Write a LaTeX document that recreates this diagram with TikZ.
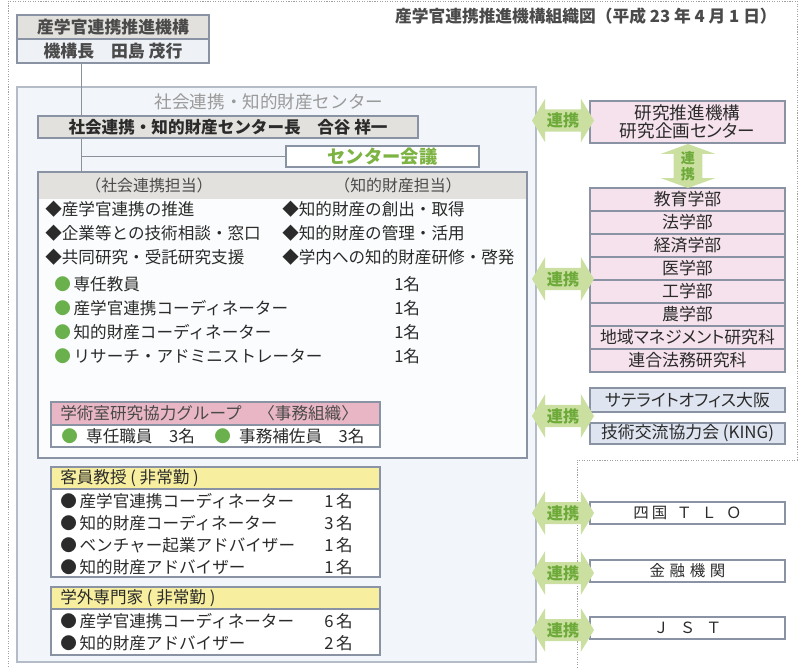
\documentclass[tikz,border=0pt]{standalone}
\usepackage{fontspec}
\setmainfont{Noto Sans CJK JP}
\newfontfamily\propfont[RawFeature=+palt]{Noto Sans CJK JP}
\usetikzlibrary{shapes.arrows}
\newcommand*{\px}{0.25mm}
\newcommand*{\jsize}[1]{\fontsize{#1}{#1}\selectfont}
\definecolor{frame}{HTML}{8A93A3}
\definecolor{framelight}{HTML}{B4BCC7}
\definecolor{centerfill}{HTML}{F2F5F9}
\definecolor{innerfill}{HTML}{FBFCFD}
\definecolor{headgray}{HTML}{E3E1DD}
\definecolor{paleblue}{HTML}{EEF2F7}
\definecolor{facultypink}{HTML}{F5E2EC}
\definecolor{officeblue}{HTML}{DFE5F0}
\definecolor{pinkhead}{HTML}{E8B6C4}
\definecolor{yellowhead}{HTML}{F7EF9F}
\definecolor{arrowfill}{HTML}{CADFA0}
\definecolor{renkeitext}{HTML}{6DAA3A}
\definecolor{dotgreen}{HTML}{6AB04C}
\definecolor{kaigigreen}{HTML}{7CB342}
\definecolor{ink}{HTML}{2B2B2B}
\definecolor{softink}{HTML}{4A4A4A}
\definecolor{midgray}{HTML}{9A9A9A}
\definecolor{linegray}{HTML}{8C9099}
\definecolor{dotgray}{HTML}{A0A0A0}
\tikzstyle{box} = [draw=frame, line width=0.9pt, rectangle, inner sep=0pt, outer sep=0pt]
\tikzstyle{item} = [anchor=west, inner sep=0pt, font=\jsize{11.8}, text=ink]
\tikzstyle{unit} = [box, minimum width=195*\px, text=ink, font=\propfont\jsize{12}]
\tikzstyle{renkei} = [double arrow, fill=arrowfill, text=renkeitext, font=\jsize{11.5}\bfseries, double arrow head extend=11*\px, double arrow tip angle=118, minimum height=62*\px, inner xsep=0pt, inner ysep=3*\px]
\tikzstyle{link} = [draw=linegray, line width=0.7pt]
\tikzstyle{outline} = [draw=dotgray, line width=0.7pt, dash pattern=on 0.8pt off 1pt]

\begin{document}
\begin{tikzpicture}[x=\px, y=-\px]
    \useasboundingbox (0, 0) rectangle (799, 667);
    \draw [outline] (8, 667) -- (8, 1) -- (797, 1) -- (797, 460) -- (577, 460) -- (577, 667);

    \node (title) [anchor=east, inner sep=0pt, font=\jsize{11.9}\bfseries, text=softink] at (777, 16) {産学官連携推進機構組織図（平成 23 年 4 月 1 日）};

    \node (kikou) [box, fill=headgray, minimum width=192*\px, minimum height=24*\px, font=\jsize{12}\bfseries, text=softink] at (113, 27) {産学官連携推進機構};
    \node (kikouchou) [box, fill=paleblue, minimum width=192*\px, minimum height=24*\px, font=\jsize{12}\bfseries, text=softink] at (113, 51) {機構長　田島 茂行};

    % center
    \node (center) [box, draw=framelight, fill=centerfill, minimum width=519*\px, minimum height=575*\px] at (276.5, 374.5) {};
    \node (centername) [inner sep=0pt, font=\jsize{12.5}, text=midgray] at (269, 102) {社会連携・知的財産センター};
    \node (chou) [box, fill=headgray, minimum width=380*\px, minimum height=22*\px, font=\jsize{11.8}\bfseries, text=ink] at (228, 127) {社会連携・知的財産センター長　合谷 祥一};
    \node (kaigi) [box, fill=white, minimum width=193*\px, minimum height=21*\px, font=\jsize{13}\bfseries, text=kaigigreen] at (382.5, 156.5) {センター会議};
    \node (tanto) [box, fill=innerfill, minimum width=489*\px, minimum height=286*\px] at (282.5, 315) {};
    \node (tantohead) [fill=headgray, inner sep=0pt, minimum width=487*\px, minimum height=26*\px] at (282.5, 186) {};
    \node (shakai) [inner sep=0pt, font=\jsize{11.3}, text=softink] at (149, 185) {（社会連携担当）};
    \node (chizai) [inner sep=0pt, font=\jsize{11.3}, text=softink] at (398, 185) {（知的財産担当）};

    \coordinate (trunk) at (81, 0);
    \draw [link] (kikouchou.south -| trunk) -- (chou.north -| trunk);
    \draw [link] (chou.south -| trunk) -- (tanto.north -| trunk);
    \draw [link] (trunk |- kaigi.west) -- (kaigi.west);

    \foreach \i/\y/\a/\b in {1/209/産学官連携の推進/知的財産の創出・取得, 2/233/企業等との技術相談・窓口/知的財産の管理・活用, 3/257/共同研究・受託研究支援/学内への知的財産研修・啓発} {
        \node (role a\i) [item] at (45, \y) {◆\a};
        \node (role b\i) [item] at (282, \y) {◆\b};
    }

    \foreach \i/\y/\name in {1/284/専任教員, 2/308/産学官連携コーディネーター, 3/332/知的財産コーディネーター, 4/356/リサーチ・アドミニストレーター} {
        \node (staff \i) [item] at (54, \y) {{\color{dotgreen}●}\,\name};
        \node (staff count \i) [item] at (394, \y) {1名};
    }

    \node (group) [box, fill=pinkhead, minimum width=329*\px, minimum height=23*\px] at (215.5, 413.5) {};
    \node (group name) [item, text=softink] at (60, 413.5) {学術室研究協力グループ　〈事務組織〉};
    \node (group staff) [box, fill=white, minimum width=329*\px, minimum height=22*\px] at (215.5, 436) {};
    \node (group a) [item] at (61, 436) {{\color{dotgreen}●}\hspace{.5em}専任職員　3名};
    \node (group b) [item] at (214, 436) {{\color{dotgreen}●}\hspace{.5em}事務補佐員　3名};

    % part-time
    \node (guest) [box, fill=yellowhead, minimum width=329*\px, minimum height=22*\px] at (215.5, 478) {};
    \node (guest body) [box, fill=white, minimum width=329*\px, minimum height=88*\px] at (215.5, 533) {};
    \node (guest name) [item] at (60, 478) {客員教授 ( 非常勤 )};
    \foreach \i/\y/\name/\n in {1/501/産学官連携コーディネーター/1, 2/523/知的財産コーディネーター/3, 3/545/ベンチャー起業アドバイザー/1, 4/567/知的財産アドバイザー/1} {
        \node (guest \i) [item] at (60, \y) {●\,\name};
        \node (guest count \i) [item] at (324, \y) {\n\,名};
    }

    \node (expert) [box, fill=yellowhead, minimum width=329*\px, minimum height=22*\px] at (215.5, 598) {};
    \node (expert body) [box, fill=white, minimum width=329*\px, minimum height=46*\px] at (215.5, 632) {};
    \node (expert name) [item] at (60, 598) {学外専門家 ( 非常勤 )};
    \foreach \i/\y/\name/\n in {1/621/産学官連携コーディネーター/6, 2/643/知的財産アドバイザー/2} {
        \node (expert \i) [item] at (60, \y) {●\,\name};
        \node (expert count \i) [item] at (324, \y) {\n\,名};
    }

    % right column
    \node (suishin) [unit, fill=facultypink, minimum height=42*\px, align=center, font=\propfont\fontsize{12.5}{12.8}\selectfont] at (687.5, 122) {研究推進機構\\研究企画センター};
    \foreach \i/\name in {0/教育学部, 1/法学部, 2/経済学部, 3/医学部, 4/工学部, 5/農学部, 6/地域マネジメント研究科, 7/連合法務研究科} {
        \node (faculty \i) [unit, fill=facultypink, minimum height=23*\px] at (687.5, {199.5 + 23 * \i}) {\name};
    }
    \node (osaka) [unit, fill=officeblue, minimum height=24*\px] at (687.5, 400) {サテライトオフィス大阪};
    \node (king) [unit, fill=officeblue, minimum height=21*\px] at (687.5, 433.5) {技術交流協力会 (KING)};
    \node (tlo) [unit, fill=white, minimum height=22*\px, font=\jsize{11}] at (687.5, 513) {四\hspace{.2em}国\hspace{.6em}Ｔ\hspace{.6em}Ｌ\hspace{.6em}Ｏ};
    \node (kinyu) [unit, fill=white, minimum height=22*\px, font=\jsize{11}] at (687.5, 571) {金\hspace{.3em}融\hspace{.3em}機\hspace{.3em}関};
    \node (jst) [unit, fill=white, minimum height=22*\px, font=\jsize{11}] at (687.5, 628) {Ｊ\hspace{.7em}Ｓ\hspace{.7em}Ｔ};

    \foreach \i/\y in {1/120.5, 2/279, 3/416, 4/513, 5/573, 6/630} {
        \node (renkei \i) [renkei] at (563, \y) {連携};
    }
    \node (renkei v) [renkei, shape border rotate=90, minimum height=44*\px, double arrow head extend=13*\px, double arrow tip angle=140, inner xsep=7*\px, inner ysep=0pt, align=center, font=\fontsize{10}{11}\selectfont\bfseries] at (688, 166) {連\\携};
\end{tikzpicture}
\end{document}
